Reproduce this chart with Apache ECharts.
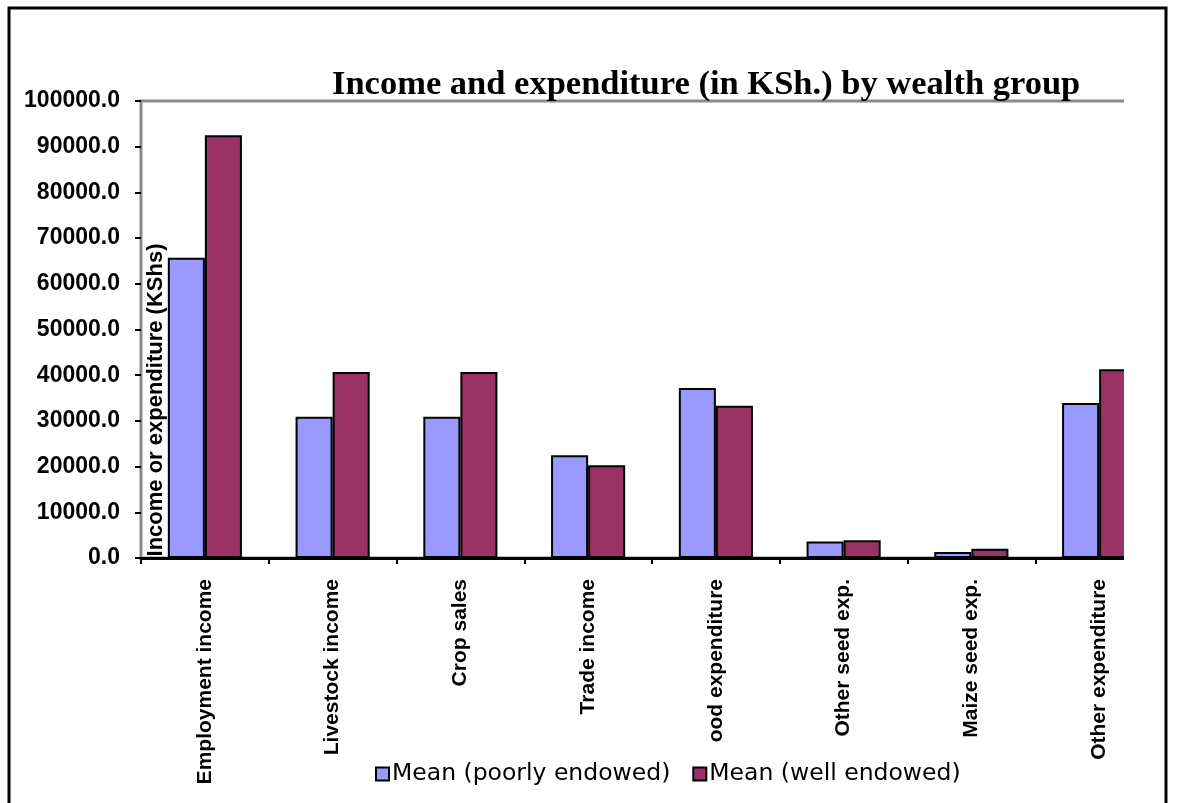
<!DOCTYPE html>
<html>
<head>
<meta charset="utf-8">
<title>Income and expenditure by wealth group</title>
<script src="https://cdn.jsdelivr.net/npm/echarts@6/dist/echarts.min.js"></script>
<style>
  html, body { margin: 0; padding: 0; background: #ffffff; }
  #chart { width: 1177px; height: 803px; }
</style>
</head>
<body>
<div id="chart"></div>
<script>
// Income and expenditure categories (KShs)
const categories = [
  'Employment income', 'Livestock income', 'Crop sales', 'Trade income',
  'ood expenditure', 'Other seed exp.', 'Maize seed exp.', 'Other expenditure'
];
const seriesNames = ['Mean (poorly endowed)', 'Mean (well endowed)'];
const poorlyEndowed = [65700, 30900, 30900, 22500, 37200, 3600, 1300, 33900];
const wellEndowed   = [92500, 40700, 40700, 20300, 33300, 3900, 2000, 41300];
const yTicks = { min: 0, max: 100000, interval: 10000 };

const chart = echarts.init(document.getElementById('chart'), null, { renderer: 'canvas' });

const barBorder = { borderColor: '#000000', borderWidth: 2 };

chart.setOption({
  animation: false,
  backgroundColor: '#ffffff',
  title: {
    text: 'Income and expenditure (in KSh.) by wealth group',
    left: 327,
    top: 63,
    textStyle: {
      fontFamily: 'Liberation Serif',
      fontWeight: 'bold',
      fontSize: 34.5,
      color: '#000000'
    }
  },
  legend: {
    left: 370,
    top: 757,
    itemWidth: 13,
    itemHeight: 13,
    itemGap: 22,
    icon: 'rect',
    textStyle: {
      fontFamily: 'DejaVu Sans',
      fontSize: 23.5,
      color: '#000000',
      padding: [0, 0, 0, -2]
    },
    data: seriesNames
  },
  grid: {
    left: 141,
    right: 14,
    top: 101,
    bottom: 245,
    show: true,
    borderColor: '#8a8a8a',
    borderWidth: 3,
    containLabel: false,
    outerBoundsMode: 'none'
  },
  xAxis: {
    type: 'category',
    data: categories,
    axisLine: { show: true, lineStyle: { color: '#000000', width: 3 } },
    axisTick: { show: true, length: 6, lineStyle: { color: '#000000', width: 2 } },
    axisLabel: {
      rotate: 90,
      margin: 21,
      interval: 0,
      fontFamily: 'Liberation Sans',
      fontWeight: 'bold',
      fontSize: 21,
      color: '#000000'
    },
    splitLine: { show: false }
  },
  yAxis: {
    type: 'value',
    min: yTicks.min,
    max: yTicks.max,
    interval: yTicks.interval,
    axisLine: { show: false },
    axisTick: { show: true, length: 6, lineStyle: { color: '#000000', width: 2 } },
    axisLabel: {
      margin: 21,
      fontFamily: 'Liberation Sans',
      fontWeight: 'bold',
      fontSize: 23,
      color: '#000000',
      formatter: v => v.toFixed(1)
    },
    splitLine: { show: false }
  },
  series: [
    {
      name: seriesNames[0],
      type: 'bar',
      data: poorlyEndowed,
      barGap: '0%',
      barCategoryGap: '42%',
      itemStyle: Object.assign({ color: '#9999ff' }, barBorder)
    },
    {
      name: seriesNames[1],
      type: 'bar',
      data: wellEndowed,
      barGap: '0%',
      barCategoryGap: '42%',
      itemStyle: Object.assign({ color: '#993366' }, barBorder)
    }
  ],
  graphic: [
    // plot is cut off on the right side
    {
      type: 'rect',
      z: 100,
      shape: { x: 1124, y: 90, width: 42, height: 480 },
      style: { fill: '#ffffff' }
    },
    // y axis title, drawn over the plot's left edge
    {
      type: 'text',
      z: 101,
      x: 156,
      y: 400,
      rotation: Math.PI / 2,
      style: {
        text: 'Income or expenditure (KShs)',
        fontFamily: 'Liberation Sans',
        fontWeight: 'bold',
        fontSize: 22,
        fill: '#000000',
        align: 'center',
        verticalAlign: 'middle'
      }
    },
    // outer frame
    {
      type: 'rect',
      z: 102,
      shape: { x: 9, y: 8, width: 1157, height: 800 },
      style: { fill: null, stroke: '#000000', lineWidth: 3 }
    }
  ]
});
</script>
</body>
</html>
